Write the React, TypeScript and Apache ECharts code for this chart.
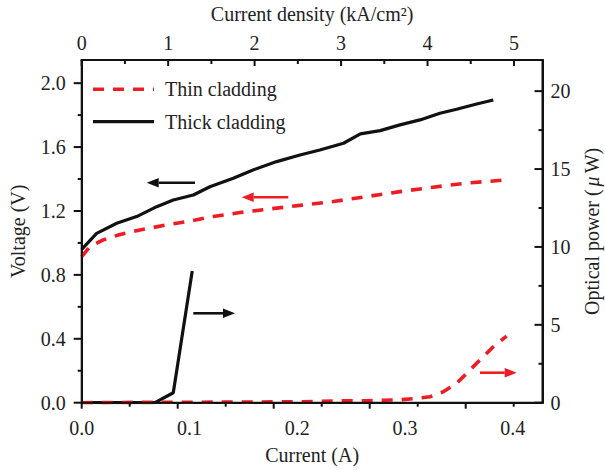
import React, { useEffect, useRef } from "react";
import * as echarts from "echarts";

// ---- Data ----
const thinVCurrent = [0, 0.0077, 0.02, 0.034, 0.054, 0.079, 0.0975, 0.122, 0.147, 0.172, 0.2025, 0.2335, 0.2645, 0.2954, 0.326, 0.357, 0.3944];
const thinVoltage = [0.914, 0.977, 1.019, 1.05, 1.081, 1.113, 1.133, 1.165, 1.19, 1.211, 1.235, 1.259, 1.29, 1.321, 1.349, 1.374, 1.395];

const thickVCurrent = [0, 0.0139, 0.0325, 0.051, 0.0696, 0.085, 0.1036, 0.119, 0.1407, 0.159, 0.181, 0.2026, 0.221, 0.243, 0.2587, 0.277, 0.2954, 0.314, 0.3325, 0.348, 0.3666, 0.382];
const thickVoltage = [0.96, 1.06, 1.123, 1.165, 1.227, 1.269, 1.3, 1.352, 1.405, 1.457, 1.509, 1.55, 1.582, 1.624, 1.683, 1.703, 1.739, 1.77, 1.812, 1.837, 1.87, 1.895];

const thinPCurrent = [0, 0.05, 0.1, 0.15, 0.2026, 0.2335, 0.2645, 0.2954, 0.311, 0.3233, 0.3356, 0.348, 0.3604, 0.3727, 0.382, 0.3944];
const thinPower = [0, 0.02, 0.03, 0.04, 0.06, 0.11, 0.13, 0.19, 0.28, 0.38, 0.7, 1.24, 2.1, 2.95, 3.59, 4.28];

const thickPCurrent = [0, 0.068, 0.085, 0.1026];
const thickPower = [0, 0, 0.64, 8.46];

// ---- Tick values ----
const bottomMajorTicks = [0, 0.1, 0.2, 0.3, 0.4]; // on the 0–0.48 tick scale of the original frame
const bottomMinorTicks = [0.05, 0.15, 0.25, 0.35, 0.45];
const densityTicks = [0, 1, 2, 3, 4, 5];
const densityMinorTicks = [0.5, 1.5, 2.5, 3.5, 4.5];
const voltageTicks = [0, 0.4, 0.8, 1.2, 1.6, 2.0];
const voltageMinorTicks = [0.2, 0.6, 1.0, 1.4, 1.8];
const powerTicks = [0, 5, 10, 15, 20];
const powerMinorTicks = [2.5, 7.5, 12.5, 17.5];

const legendNames = ["Thin cladding", "Thick cladding"];

// axis extents
const CURRENT_MAX = 0.4277;
const TICKSCALE_MAX = 0.48;
const DENSITY_MAX = 5.33;
const VOLTAGE_MAX = 2.145;
const POWER_MAX = 22;

const zip = (xs: number[], ys: number[]) => xs.map((x, i) => [x, ys[i]]);

export default function App() {
  const ref = useRef<HTMLDivElement>(null);

  useEffect(() => {
    const chart = echarts.init(ref.current!, null, { renderer: "svg" });
    const font = "'Liberation Serif', 'Times New Roman', serif";
    const RED = "#ee1c25";
    const BLACK = "#111111";
    const TXT = "#222222";
    const GRID = { left: 81.7, right: 62.5, top: 60, bottom: 67.3 };
    const W = 605, H = 470;

    const lbl = (fmt: (v: number) => string, margin: number) => ({
      show: true,
      showMinLabel: true,
      showMaxLabel: false,
      formatter: fmt,
      margin,
      fontFamily: font,
      fontSize: 20,
      color: TXT,
    });
    const line = () => ({ show: true, onZero: false, lineStyle: { color: BLACK, width: 2 } });
    const nameStyle = { fontFamily: font, fontSize: 20, color: TXT };

    const option: any = {
      animation: false,
      textStyle: { fontFamily: font },
      grid: { ...GRID, containLabel: false, outerBoundsMode: "none" },
      xAxis: [
        {
          type: "value",
          position: "bottom",
          min: 0,
          max: CURRENT_MAX,
          interval: 0.1,
          name: "Current (A)",
          nameLocation: "middle",
          nameGap: 42,
          nameTextStyle: nameStyle,
          axisLine: line(),
          axisTick: { show: false },
          axisLabel: lbl((v) => v.toFixed(1), 15),
          splitLine: { show: false },
        },
        {
          type: "value",
          position: "top",
          min: 0,
          max: DENSITY_MAX,
          interval: 1,
          name: "Current density (kA/cm²)",
          nameLocation: "middle",
          nameGap: 36,
          nameTextStyle: nameStyle,
          axisLine: line(),
          axisTick: { show: false },
          axisLabel: lbl((v) => String(v), 7),
          splitLine: { show: false },
        },
      ],
      yAxis: [
        {
          type: "value",
          position: "left",
          min: 0,
          max: VOLTAGE_MAX,
          interval: 0.4,
          name: "Voltage (V)",
          nameLocation: "middle",
          nameRotate: 90,
          nameGap: 54,
          nameTextStyle: nameStyle,
          axisLine: line(),
          axisTick: { show: false },
          axisLabel: lbl((v) => v.toFixed(1), 16),
          splitLine: { show: false },
        },
        {
          type: "value",
          position: "right",
          min: 0,
          max: POWER_MAX,
          interval: 5,
          name: "Optical power ({i|μ}W)",
          nameLocation: "middle",
          nameRotate: 90,
          nameGap: 39,
          nameTextStyle: { ...nameStyle, rich: { i: { fontFamily: font, fontSize: 20, fontStyle: "italic", color: TXT, padding: [0, 3, 0, 3] } } },
          axisLine: line(),
          axisTick: { show: false },
          axisLabel: lbl((v) => String(v), 8),
          splitLine: { show: false },
        },
      ],
      series: [
        {
          name: "Thick cladding",
          type: "line",
          xAxisIndex: 0,
          yAxisIndex: 0,
          data: zip(thickVCurrent, thickVoltage),
          symbol: "none",
          lineStyle: { color: BLACK, width: 3.2 },
          itemStyle: { color: BLACK },
        },
        {
          name: "Thick cladding",
          type: "line",
          xAxisIndex: 0,
          yAxisIndex: 1,
          data: zip(thickPCurrent, thickPower),
          symbol: "none",
          lineStyle: { color: BLACK, width: 3.2 },
          itemStyle: { color: BLACK },
        },
        {
          name: "Thin cladding",
          type: "line",
          xAxisIndex: 0,
          yAxisIndex: 0,
          data: zip(thinVCurrent, thinVoltage),
          symbol: "none",
          lineStyle: { color: RED, width: 3.6, type: [11, 9] },
          itemStyle: { color: RED },
        },
        {
          name: "Thin cladding",
          type: "line",
          xAxisIndex: 0,
          yAxisIndex: 1,
          data: zip(thinPCurrent, thinPower),
          symbol: "none",
          lineStyle: { color: RED, width: 3.6, type: [11, 9] },
          itemStyle: { color: RED },
        },
        {
          type: "line",
          xAxisIndex: 1,
          yAxisIndex: 0,
          data: [],
          symbol: "none",
          silent: true,
        },
      ],
    };

    chart.setOption(option);

    // linear scales matching the grid and the axis extents
    const gl = GRID.left, gr = W - GRID.right, gt = GRID.top, gb = H - GRID.bottom;
    const sx = (v: number, max: number) => gl + (v / max) * (gr - gl);
    const sy = (v: number, max: number) => gb - (v / max) * (gb - gt);

    const g: any[] = [];
    const seg = (x1: number, y1: number, x2: number, y2: number, color: string, w: number, dash?: number[]) =>
      g.push({
        type: "line",
        silent: true,
        z: 50,
        shape: { x1: Number(x1), y1: Number(y1), x2: Number(x2), y2: Number(y2) },
        style: { stroke: color, lineWidth: w, lineDash: dash || null, lineCap: "butt" },
      });

    const L = gl, R = gr, B = gb, T = gt;

    // frame
    const FW = 2;
    seg(L - FW / 2, B, R + FW / 2, B, BLACK, FW);
    seg(L - FW / 2, T, R + FW / 2, T, BLACK, FW);
    seg(L, T, L, B, BLACK, FW);
    seg(R, T, R, B, BLACK, FW);

    // ticks
    const TW = 2;
    bottomMajorTicks.forEach((v) => { const x = sx(v, TICKSCALE_MAX); seg(x, B, x, B + 6, BLACK, TW); });
    bottomMinorTicks.forEach((v) => { const x = sx(v, TICKSCALE_MAX); seg(x, B, x, B + 4, BLACK, TW); });
    densityTicks.forEach((v) => { const x = sx(v, DENSITY_MAX); seg(x, T, x, T + 6, BLACK, TW); });
    densityMinorTicks.forEach((v) => { const x = sx(v, DENSITY_MAX); seg(x, T, x, T + 4, BLACK, TW); });
    voltageTicks.forEach((v) => { const y = sy(v, VOLTAGE_MAX); seg(L - 8, y, L, y, BLACK, TW); });
    voltageMinorTicks.forEach((v) => { const y = sy(v, VOLTAGE_MAX); seg(L - 4, y, L, y, BLACK, TW); });
    powerTicks.forEach((v) => { const y = sy(v, POWER_MAX); seg(R - 8, y, R, y, BLACK, TW); });
    powerMinorTicks.forEach((v) => { const y = sy(v, POWER_MAX); seg(R - 4, y, R, y, BLACK, TW); });

    // legend
    const legendEntry = (y: number, name: string, color: string, dashed: boolean) => {
      seg(93, y, 154, y, color, dashed ? 3.6 : 3.2, dashed ? [11, 9] : undefined);
      g.push({
        type: "text",
        x: 165,
        y,
        z: 50,
        style: { text: name, fontFamily: font, fontSize: 20, fill: TXT, verticalAlign: "middle", align: "left" },
      });
    };
    legendEntry(89.3, legendNames[0], RED, true);
    legendEntry(121.7, legendNames[1], BLACK, false);

    // arrows
    const arrow = (x1: number, y: number, x2: number, color: string) => {
      const dir = Math.sign(x2 - x1);
      const headLen = 12;
      const half = 4.8;
      seg(x1, y, x2 - dir * headLen, y, color, 2.6);
      g.push({
        type: "polygon",
        silent: true,
        z: 50,
        shape: { points: [[x2, y], [x2 - dir * headLen, y - half], [x2 - dir * headLen, y + half]] },
        style: { fill: color },
      });
    };
    arrow(195, 182.7, 146.7, BLACK);
    arrow(288.3, 197.3, 241.7, RED);
    arrow(193.3, 313.3, 235, BLACK);
    arrow(480, 372.7, 516.7, RED);

    chart.setOption({ graphic: g });
    return () => chart.dispose();
  }, []);

  return (
    <div
      ref={ref}
      style={{ position: "fixed", left: 0, top: 0, width: 605, height: 470, background: "#ffffff" }}
    />
  );
}
